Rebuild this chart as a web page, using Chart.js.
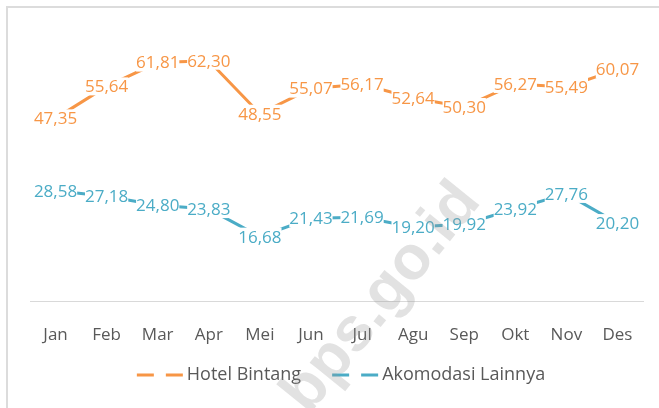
<!DOCTYPE html>
<html lang="id">
<head>
<meta charset="UTF-8">
<title>Hotel Bintang vs Akomodasi Lainnya</title>
<script src="https://cdnjs.cloudflare.com/ajax/libs/Chart.js/4.4.1/chart.umd.min.js"></script>
<style>
  html, body { margin: 0; padding: 0; background: #fff; overflow: hidden; }
  #wrap { position: relative; width: 659px; height: 408px; }
</style>
</head>
<body>
<div id="wrap"><canvas id="myChart"></canvas></div>
<script>
// data
var months = ['Jan', 'Feb', 'Mar', 'Apr', 'Mei', 'Jun', 'Jul', 'Agu', 'Sep', 'Okt', 'Nov', 'Des'];
var hotelBintang = [47.35, 55.64, 61.81, 62.30, 48.55, 55.07, 56.17, 52.64, 50.30, 56.27, 55.49, 60.07];
var akomodasiLain = [28.58, 27.18, 24.80, 23.83, 16.68, 21.43, 21.69, 19.20, 19.92, 23.92, 27.76, 20.20];
var seriesNames = ['Hotel Bintang', 'Akomodasi Lainnya'];
var seriesColors = ['#F79646', '#4BACC6'];

var FONT = '"Open Sans", "DejaVu Sans", sans-serif';

function fmt(v) {
    return v.toFixed(2).replace('.', ',');
}

// frame lines (top + left), like the cropped excel chart border
var framePlugin = {
    id: 'frame',
    beforeDraw: function (chart) {
        var ctx = chart.ctx;
        ctx.save();
        ctx.fillStyle = '#fff';
        ctx.fillRect(0, 0, chart.width, chart.height);
        ctx.fillStyle = '#dcdcdc';
        ctx.fillRect(6, 6, chart.width - 6, 2);
        ctx.fillRect(6, 6, 2, chart.height - 6);
        ctx.restore();
    }
};

// value labels sitting on the points, hiding the line under them
var labelPlugin = {
    id: 'valLabels',
    afterDatasetsDraw: function (chart) {
        var ctx = chart.ctx;
        ctx.save();
        ctx.font = '17px ' + FONT;
        ctx.textAlign = 'center';
        ctx.textBaseline = 'middle';
        chart.data.datasets.forEach(function (ds, i) {
            var meta = chart.getDatasetMeta(i);
            meta.data.forEach(function (pt, j) {
                var txt = fmt(ds.data[j]);
                var w = ctx.measureText(txt).width;
                ctx.fillStyle = '#fff';
                ctx.fillRect(pt.x - w / 2, pt.y - 9, w, 18);
            });
            meta.data.forEach(function (pt, j) {
                ctx.fillStyle = ds.borderColor;
                ctx.fillText(fmt(ds.data[j]), pt.x, pt.y + 1);
            });
        });
        ctx.restore();
    }
};

// bottom legend with dashed line markers
var legendPlugin = {
    id: 'dashLegend',
    afterDraw: function (chart) {
        var ctx = chart.ctx;
        ctx.save();
        ctx.font = '18px ' + FONT;
        ctx.textBaseline = 'middle';
        var markW = 47, markGap = 3, itemGap = 31;
        var total = 0;
        seriesNames.forEach(function (n, i) {
            total += markW + markGap + ctx.measureText(n).width;
            if (i < seriesNames.length - 1) total += itemGap;
        });
        var x = 341 - total / 2;
        var y = 375;
        seriesNames.forEach(function (n, i) {
            ctx.strokeStyle = seriesColors[i];
            ctx.lineWidth = 3;
            ctx.setLineDash([17, 12]);
            ctx.beginPath();
            ctx.moveTo(x, y);
            ctx.lineTo(x + markW, y);
            ctx.stroke();
            ctx.setLineDash([]);
            x += markW + markGap;
            ctx.fillStyle = '#595959';
            ctx.fillText(n, x, y);
            x += ctx.measureText(n).width + itemGap;
        });
        ctx.restore();
    }
};

// faint site watermark over everything
var watermarkPlugin = {
    id: 'watermark',
    afterDraw: function (chart) {
        var ctx = chart.ctx;
        ctx.save();
        ctx.translate(382, 298);
        ctx.rotate(-51 * Math.PI / 180);
        ctx.font = 'bold 62px "Liberation Sans", Arial, sans-serif';
        ctx.textAlign = 'center';
        ctx.textBaseline = 'middle';
        ctx.fillStyle = 'rgba(150,150,150,0.28)';
        ctx.fillText('bps.go.id', 0, 0);
        ctx.restore();
    }
};

var ctx = document.querySelector('#myChart').getContext('2d');
new Chart(ctx, {
    type: 'line',
    data: {
        labels: months,
        datasets: [{
            label: seriesNames[0],
            data: hotelBintang,
            borderColor: seriesColors[0],
            backgroundColor: seriesColors[0],
            borderWidth: 3,
            pointRadius: 0,
            tension: 0,
            fill: false
        }, {
            label: seriesNames[1],
            data: akomodasiLain,
            borderColor: seriesColors[1],
            backgroundColor: seriesColors[1],
            borderWidth: 3,
            pointRadius: 0,
            tension: 0,
            fill: false
        }]
    },
    options: {
        responsive: true,
        maintainAspectRatio: false,
        animation: false,
        layout: { padding: { left: 30, right: 16, top: 31, bottom: 0 } },
        plugins: {
            legend: { display: false },
            tooltip: { enabled: false },
            title: { display: false }
        },
        scales: {
            x: {
                offset: true,
                grid: { display: false, drawTicks: false },
                border: { display: true, color: '#d9d9d9', width: 1 },
                ticks: {
                    color: '#595959',
                    font: { family: FONT, size: 17 },
                    padding: 24,
                    maxRotation: 0,
                    autoSkip: false
                },
                afterFit: function (scale) { scale.height = 107; }
            },
            y: {
                display: false,
                min: 0,
                max: 70
            }
        }
    },
    plugins: [framePlugin, labelPlugin, legendPlugin, watermarkPlugin]
});
</script>
</body>
</html>
